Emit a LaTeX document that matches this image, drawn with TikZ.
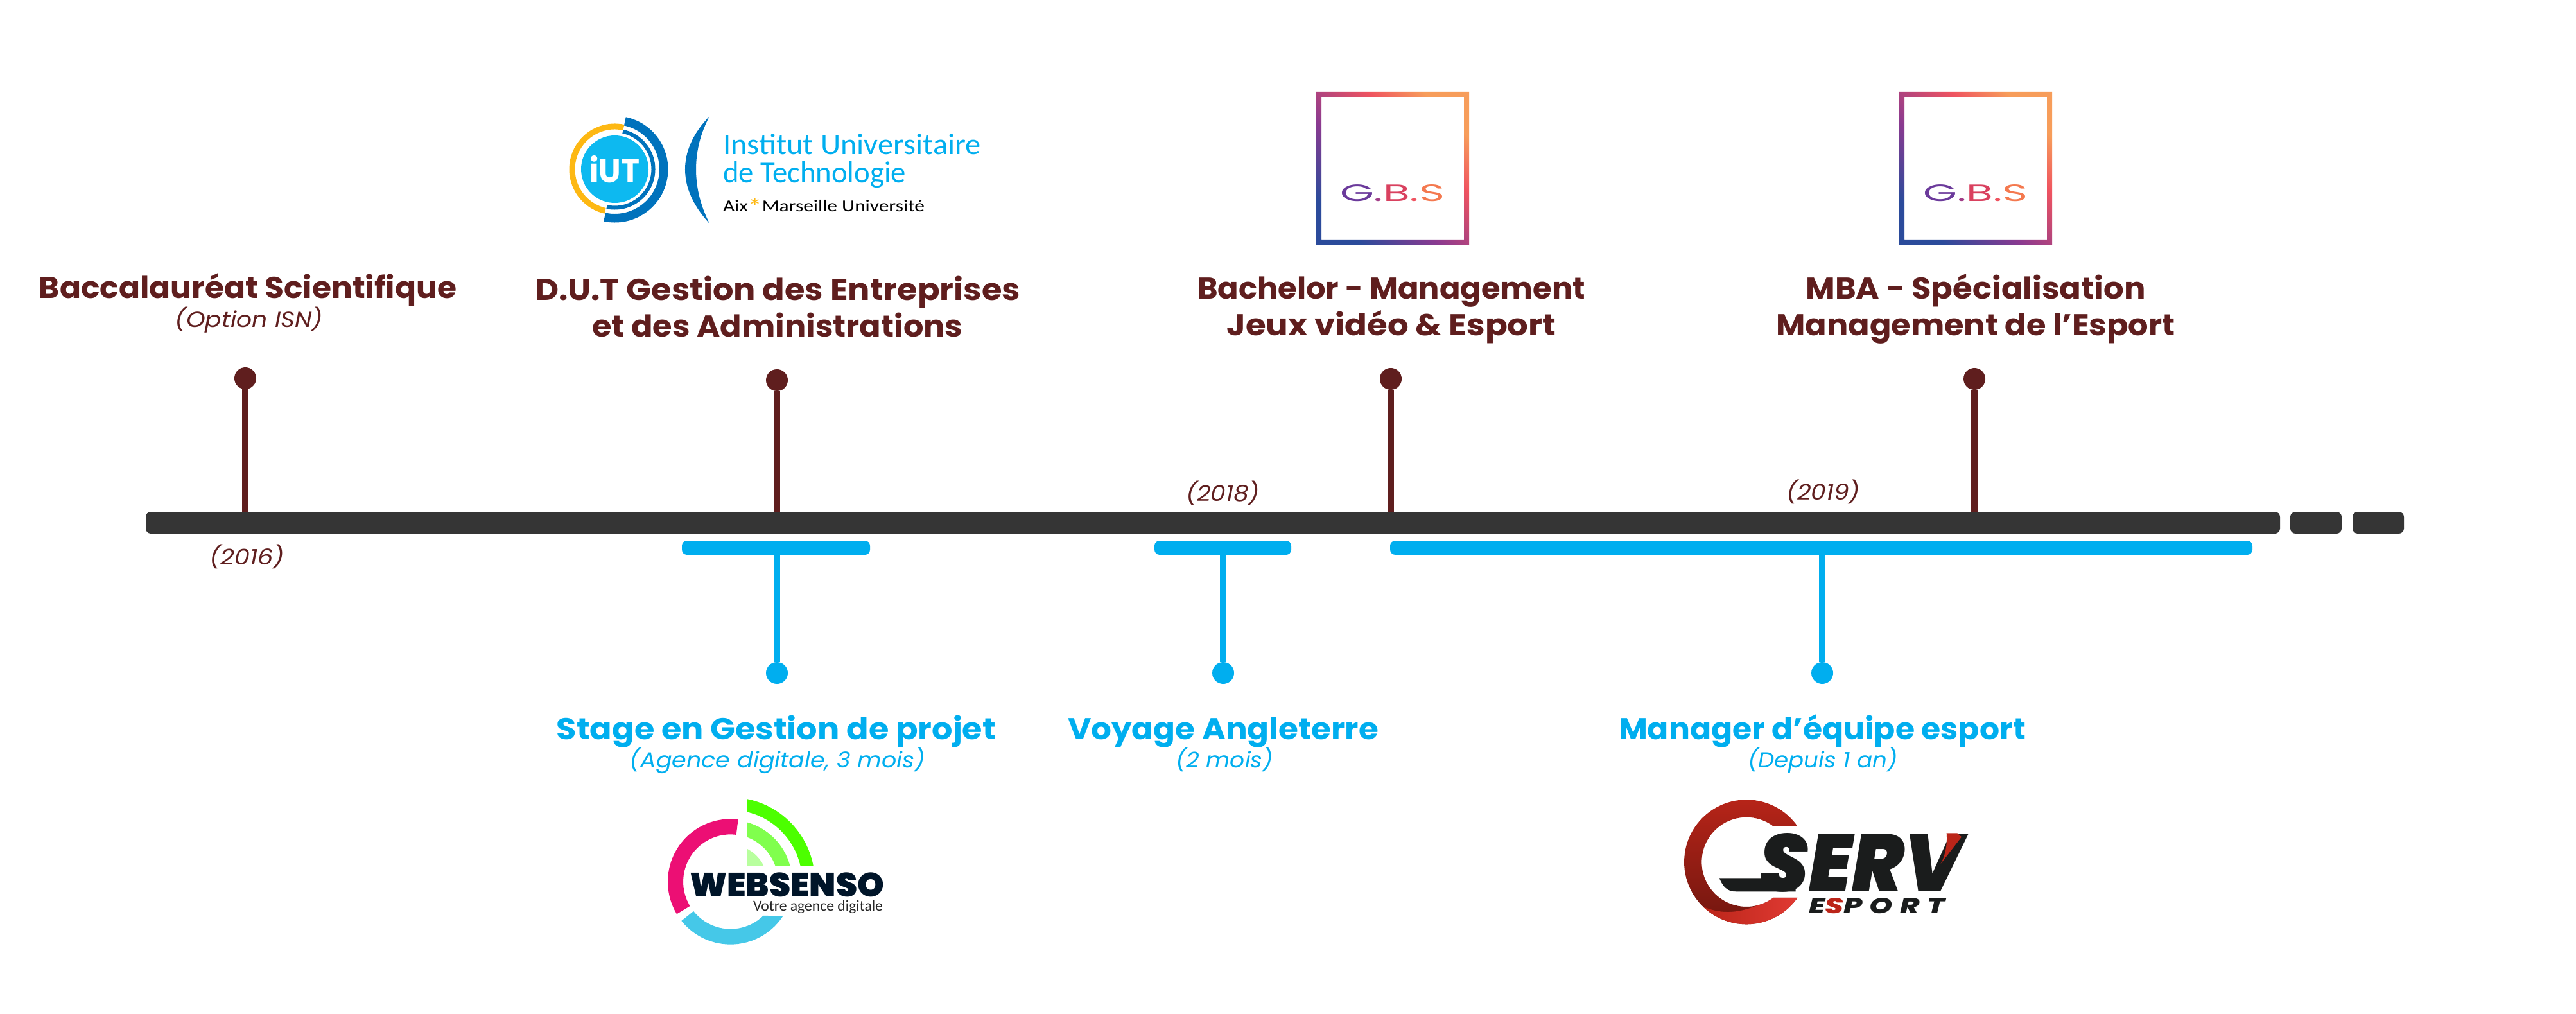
\documentclass[tikz,border=0pt]{standalone}
\usepackage{fontspec}
\usepackage{graphicx}
\setmainfont{Poppins}
\newfontfamily\carlito{Carlito}
\newfontfamily\heavyfont[ItalicFont={Poppins Black Italic}]{Poppins Black}
\newfontfamily\spacedfont[LetterSpace=25,ItalicFont={Poppins ExtraBold Italic}]{Poppins ExtraBold}
\usetikzlibrary{positioning}
\definecolor{wine}{HTML}{5F1E1E}
\definecolor{sky}{HTML}{00AEEF}
\definecolor{coal}{HTML}{353535}
\definecolor{iutblue}{HTML}{0072BC}
\definecolor{iutcyan}{HTML}{0DB9F0}
\definecolor{iutgold}{HTML}{FDB813}
\definecolor{servred}{HTML}{BB2519}
\definecolor{servlight}{HTML}{E03A33}
\definecolor{servink}{HTML}{1A1C1C}
\definecolor{webink}{HTML}{001529}
\definecolor{webpink}{HTML}{EC0F74}
\definecolor{webcyan}{HTML}{45C8E8}
\definecolor{webgreena}{HTML}{4CFF00}
\definecolor{webgreenb}{HTML}{80FF4D}
\definecolor{webgreenc}{HTML}{B8FF9E}
\definecolor{gbsblue}{HTML}{2B4B9B}
\definecolor{gbspurple}{HTML}{8A3A90}
\definecolor{gbsred}{HTML}{EF5360}
\definecolor{gbsorange}{HTML}{F79D5A}
\pgfdeclarehorizontalshading{gbsshade}{100bp}{color(0bp)=(gbsblue);
  color(25bp)=(gbsblue); color(43bp)=(gbspurple); color(62bp)=(gbsred); color(75bp)=(gbsorange); color(100bp)=(gbsorange)}
\newcommand*{\ringseg}[4]{(#1:#4) arc[start angle=#1,end angle=#2,radius=#4] -- (#2:#3) arc[start angle=#2,end angle=#1,radius=#3] -- cycle}
\newcommand*{\fitline}[2]{\resizebox{#1cm}{\height}{#2}}
\newcommand*{\gbsword}{\textcolor[HTML]{6B3A9B}{G}\textcolor[HTML]{A23E88}{.}\textcolor[HTML]{D9415F}{B}\textcolor[HTML]{EF5360}{.}\textcolor[HTML]{F4794F}{S}}
\tikzset{
  every node/.style={inner sep=0pt, outer sep=0pt},
  barmain/.style={fill=coal, rounded corners=.08cm, minimum height=.34cm},
  barblue/.style={fill=sky, rounded corners=.08cm, minimum height=.22cm},
  dotwine/.style={circle, fill=wine, minimum size=.34cm},
  dotsky/.style={circle, fill=sky, minimum size=.34cm},
  stemwine/.style={draw=wine, line width=.1cm},
  stemsky/.style={draw=sky, line width=.1cm},
  titlewine/.style={text=wine, font=\fontsize{13.3}{16.5}\selectfont\bfseries, align=center, anchor=base},
  titlesky/.style={text=sky, font=\fontsize{13.3}{16.5}\selectfont\bfseries, align=center, anchor=base},
  subwine/.style={text=wine, font=\fontsize{9.6}{11}\selectfont\itshape, anchor=base},
  subsky/.style={text=sky, font=\fontsize{9.6}{11}\selectfont\itshape, anchor=base},
  logotext/.style={anchor=base west},
  iutunits/.style={x=.1mm, y=.1mm},
  zoomunits/.style={x=.03333mm, y=.03333mm}
}
\begin{document}
\begin{tikzpicture}
  \useasboundingbox (0,0) rectangle (40.12,15.78);
  % timeline
  \node[barmain, minimum width=33.24cm] (bar) at (18.89,7.64) {};
  \node[barmain, minimum width=.8cm] (gapa) at (36.07,7.64) {};
  \node[barmain, minimum width=.8cm] (gapb) at (37.04,7.64) {};
  \node[barblue, minimum width=2.93cm] (spana) at (12.085,7.25) {};
  \node[barblue, minimum width=2.13cm] (spanb) at (19.045,7.25) {};
  \node[barblue, minimum width=13.43cm] (spanc) at (28.365,7.25) {};
  % top events
  \node[dotwine] (bac) at (3.82,9.89) {};
  \node[dotwine] (dut) at (12.10,9.86) {};
  \node[dotwine] (bach) at (21.66,9.88) {};
  \node[dotwine] (mba) at (30.75,9.88) {};
  \draw[stemwine] (bac) -- (bac |- bar.north);
  \draw[stemwine] (dut) -- (dut |- bar.north);
  \draw[stemwine] (bach) -- (bach |- bar.north);
  \draw[stemwine] (mba) -- (mba |- bar.north);
  % bottom events
  \node[dotsky] (stage) at (12.10,5.30) {};
  \node[dotsky] (uk) at (19.05,5.30) {};
  \node[dotsky] (team) at (28.38,5.30) {};
  \draw[stemsky] (stage) -- (stage |- spana.south);
  \draw[stemsky] (uk) -- (uk |- spanb.south);
  \draw[stemsky] (team) -- (team |- spanc.south);
  % labels
  \node[titlewine] (baclab) at (3.86,11.13) {\fitline{6.50}{Baccalauréat Scientifique}};
  \node[subwine] (baclabsub) at (3.88,10.68) {\fitline{2.30}{(Option ISN)}};
  \node[titlewine] (dutlab) at (12.11,10.53) {\fitline{7.56}{D.U.T Gestion des Entreprises}\\\fitline{5.77}{et des Administrations}};
  \node[titlewine] (bachlab) at (21.67,10.55) {\fitline{6.04}{Bachelor - Management}\\\fitline{5.13}{Jeux vidéo \& Esport}};
  \node[titlewine] (mbalab) at (30.77,10.55) {\fitline{5.29}{MBA - Spécialisation}\\\fitline{6.21}{Management de l’Esport}};
  \node[subwine] (yeara) at (3.845,6.99) {\fitline{1.17}{(2016)}};
  \node[subwine] (yearb) at (19.045,7.97) {\fitline{1.15}{(2018)}};
  \node[subwine] (yearc) at (28.395,7.99) {\fitline{1.15}{(2019)}};
  \node[titlesky] (stagelab) at (12.09,4.27) {\fitline{6.84}{Stage en Gestion de projet}};
  \node[subsky] (stagesub) at (12.11,3.83) {\fitline{4.60}{(Agence digitale, 3 mois)}};
  \node[titlesky] (uklab) at (19.05,4.27) {\fitline{4.84}{Voyage Angleterre}};
  \node[subsky] (uksub) at (19.07,3.83) {\fitline{1.52}{(2 mois)}};
  \node[titlesky] (teamlab) at (28.38,4.27) {\fitline{6.34}{Manager d’équipe esport}};
  \node[subsky] (teamsub) at (28.39,3.83) {\fitline{2.34}{(Depuis 1 an)}};
  % iut logo
  \begin{scope}[shift={(9.575,13.145)},iutunits]
    \fill[iutgold] \ringseg{78}{257}{62}{71};
    \fill[iutblue] \ringseg{78}{-102}{69.5}{83};
    \fill[iutblue] \ringseg{78}{-102}{57}{63};
    \fill[iutcyan] (0,0) circle (52.5);
    \fill[iutblue] (147.5,82.5) .. controls (96.8,30) and (96.8,-30) .. (147.5,-84.5) .. controls (119.5,-30) and (119.5,30) .. cycle;
  \end{scope}
  \node[text=white] (iutmark) at (9.57,13.14) {\resizebox{.78cm}{.42cm}{\bfseries iUT}};
  \node[logotext, text=sky] (iuta) at (11.26,13.37) {\resizebox{4.02cm}{.32cm}{\carlito Institut Universitaire}};
  \node[logotext, text=sky] (iutb) at (11.26,12.93) {\resizebox{2.85cm}{.33cm}{\carlito de Technologie}};
  \node[logotext, text=black] (iutc) at (11.26,12.48) {\resizebox{3.14cm}{.215cm}{\carlito Aix\textcolor{iutgold}{\raisebox{-.35ex}{\scalebox{1.4}{*}}}Marseille Université}};
  % gbs logos
  \foreach \x in {20.50,29.58}{
    \shade[shading=gbsshade, shading angle=45, even odd rule] (\x,11.97) rectangle +(2.38,2.38) (\x+.08,12.05) rectangle +(2.22,2.22);
  }
  \node (gbsa) at (21.685,12.77) {\resizebox{1.63cm}{.26cm}{\gbsword}};
  \node (gbsb) at (30.77,12.77) {\resizebox{1.63cm}{.26cm}{\gbsword}};
  % websenso logo
  \begin{scope}[shift={(11.377,2.05)},zoomunits]
    \fill[webpink] \ringseg{83}{211}{221}{293};
    \fill[webcyan] (218.6:293) arc[start angle=218.6,end angle=327.1,radius=293] -- (314:221) arc[start angle=314,end angle=218.6,radius=221] -- cycle;
    \begin{scope}
      \clip (78,75) rectangle (400,400);
      \fill[even odd rule, webgreena] (0,0) circle (394) (0,0) circle (335);
      \fill[even odd rule, webgreenb] (0,0) circle (288) (0,0) circle (222);
      \fill[webgreenc] (0,0) circle (172);
    \end{scope}
  \end{scope}
  \node[logotext, text=webink] (webname) at (10.74,1.813) {\resizebox{3.03cm}{.377cm}{\heavyfont WEBSENSO}};
  \node[logotext, text=black!85] (webtag) at (11.73,1.60) {\resizebox{2.02cm}{!}{\carlito Votre agence digitale}};
  % serv logo
  \begin{scope}[shift={(27.20,2.357)},zoomunits]
    \shade[top color=servred, middle color=servred, bottom color=servred!60!black] (35:291) arc[start angle=35,end angle=325,radius=291] -- (307:209) arc[start angle=307,end angle=53,radius=209] -- cycle;
    \shade[left color=servred, right color=servlight] (225.8:291) arc[start angle=225.8,end angle=325,radius=291] -- (307:209) arc[start angle=307,end angle=283.7,radius=209] .. controls (-50,-245) and (-130,-240) .. cycle;
    \fill[servink] (-127,-75) -- (230,-75) -- (230,-138) -- (-50,-138) .. controls (-90,-138) and (-110,-115) .. cycle;
  \end{scope}
  \node[logotext, text=servink] (servname) at (27.407,1.90) {\resizebox{3.16cm}{.91cm}{\heavyfont\itshape SERV}};
  \begin{scope}[shift={(27.20,2.357)},zoomunits]
    \fill[servred] (935,135) -- (985,135) -- (1005,117) -- (908,-8) .. controls (930,30) and (940,90) .. cycle;
  \end{scope}
  \node[logotext, text=servink] (servsub) at (28.17,1.56) {\resizebox{2.12cm}{.24cm}{\spacedfont\itshape E\textcolor{servred}{S}PORT}};
\end{tikzpicture}
\end{document}
